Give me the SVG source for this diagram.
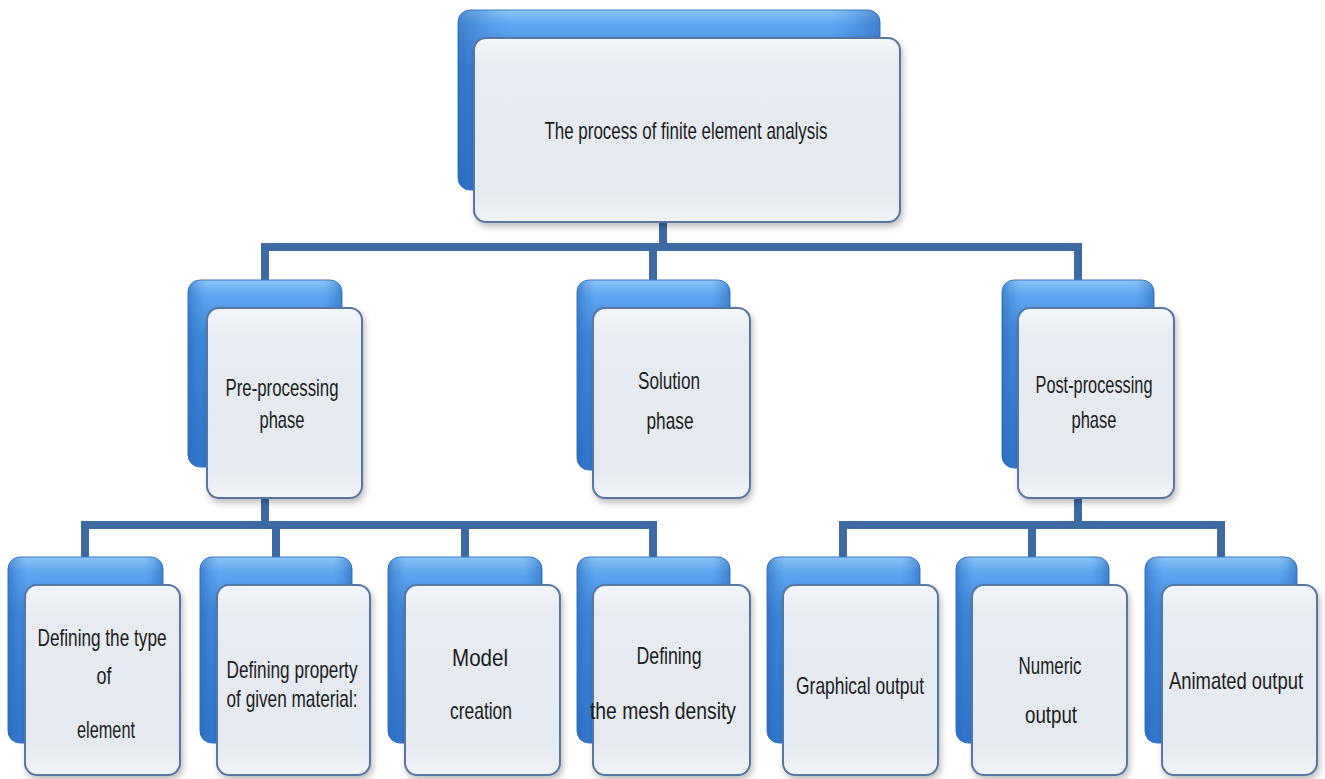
<svg xmlns="http://www.w3.org/2000/svg" width="1325" height="779" viewBox="0 0 1325 779">
  <defs>
    <linearGradient id="backGrad" x1="0" y1="0" x2="0" y2="1">
      <stop offset="0" stop-color="#8cc6f7"/>
      <stop offset="0.08" stop-color="#5ea6ee"/>
      <stop offset="0.3" stop-color="#3f88dc"/>
      <stop offset="1" stop-color="#2f74cc"/>
    </linearGradient>
    <linearGradient id="backSide" x1="0" y1="0" x2="1" y2="0">
      <stop offset="0" stop-color="#2a66b8" stop-opacity="0.6"/>
      <stop offset="0.12" stop-color="#3f88dc" stop-opacity="0"/>
      <stop offset="0.88" stop-color="#3f88dc" stop-opacity="0"/>
      <stop offset="1" stop-color="#2a66b8" stop-opacity="0.6"/>
    </linearGradient>
    <linearGradient id="frontGrad" x1="0" y1="0" x2="0" y2="1">
      <stop offset="0" stop-color="#f3f6f9"/>
      <stop offset="0.15" stop-color="#e7ecf2"/>
      <stop offset="0.85" stop-color="#e5eaf0"/>
      <stop offset="1" stop-color="#f1f4f7"/>
    </linearGradient>
    <filter id="shadow" x="-10%" y="-10%" width="125%" height="125%">
      <feDropShadow dx="2" dy="4" stdDeviation="3" flood-color="#000" flood-opacity="0.25"/>
    </filter>
  </defs>
  <style>
    .back { fill: url(#backGrad); stroke: #3a78c8; stroke-width: 1; }
    .side { fill: url(#backSide); }
    .front { fill: url(#frontGrad); stroke: #5876a2; stroke-width: 2; filter: url(#shadow); }
    .conn { fill: none; stroke: #3d6aa3; stroke-width: 8; stroke-linejoin: miter; stroke-linecap: butt; }
    .t { font-family: "Liberation Sans Narrow", "Liberation Sans", Arial, sans-serif; font-size: 24px; fill: #1c1c1c; text-anchor: middle; }
  </style>

  <g id="connectors">
    <path class="conn" d="M663,222 V247"/>
    <path class="conn" d="M265,284 V247 H1078 V284"/>
    <path class="conn" d="M653,247 V284"/>
    <path class="conn" d="M265,498 V525"/>
    <path class="conn" d="M85,560 V525 H653 V560"/>
    <path class="conn" d="M276,525 V560"/>
    <path class="conn" d="M465,525 V560"/>
    <path class="conn" d="M1078,498 V525"/>
    <path class="conn" d="M843,560 V525 H1221 V560"/>
    <path class="conn" d="M1032,525 V560"/>
  </g>

  <g id="node-root">
    <rect class="back" x="458" y="10" width="422" height="180" rx="12"/>
    <rect class="side" x="458" y="10" width="422" height="180" rx="12"/>
    <rect class="front" x="474" y="38" width="426" height="184" rx="12"/>
    <text class="t" x="686" y="139" textLength="283" lengthAdjust="spacingAndGlyphs">The process of finite element analysis</text>
  </g>

  <g id="node-pre">
    <rect class="back" x="188" y="280" width="154" height="187" rx="12"/>
    <rect class="side" x="188" y="280" width="154" height="187" rx="12"/>
    <rect class="front" x="207" y="308" width="155" height="190" rx="12"/>
    <text class="t" x="282" y="396" textLength="113" lengthAdjust="spacingAndGlyphs">Pre-processing</text>
    <text class="t" x="282" y="428" textLength="45" lengthAdjust="spacingAndGlyphs">phase</text>
  </g>

  <g id="node-solution">
    <rect class="back" x="577" y="280" width="153" height="190" rx="12"/>
    <rect class="side" x="577" y="280" width="153" height="190" rx="12"/>
    <rect class="front" x="593" y="308" width="157" height="190" rx="12"/>
    <text class="t" x="669" y="389" textLength="62" lengthAdjust="spacingAndGlyphs">Solution</text>
    <text class="t" x="670" y="429" textLength="47" lengthAdjust="spacingAndGlyphs">phase</text>
  </g>

  <g id="node-post">
    <rect class="back" x="1002" y="280" width="152" height="188" rx="12"/>
    <rect class="side" x="1002" y="280" width="152" height="188" rx="12"/>
    <rect class="front" x="1018" y="308" width="156" height="190" rx="12"/>
    <text class="t" x="1094" y="393" textLength="117" lengthAdjust="spacingAndGlyphs">Post-processing</text>
    <text class="t" x="1094" y="428" textLength="45" lengthAdjust="spacingAndGlyphs">phase</text>
  </g>

  <g id="node-type">
    <rect class="back" x="8" y="557" width="155" height="186" rx="12"/>
    <rect class="side" x="8" y="557" width="155" height="186" rx="12"/>
    <rect class="front" x="25" y="585" width="155" height="190" rx="12"/>
    <text class="t" x="102" y="646" textLength="129" lengthAdjust="spacingAndGlyphs">Defining the type</text>
    <text class="t" x="104" y="684" textLength="15" lengthAdjust="spacingAndGlyphs">of</text>
    <text class="t" x="106" y="738" textLength="58" lengthAdjust="spacingAndGlyphs">element</text>
  </g>

  <g id="node-material">
    <rect class="back" x="200" y="557" width="152" height="186" rx="12"/>
    <rect class="side" x="200" y="557" width="152" height="186" rx="12"/>
    <rect class="front" x="217" y="585" width="153" height="190" rx="12"/>
    <text class="t" x="292" y="678" textLength="131" lengthAdjust="spacingAndGlyphs">Defining property</text>
    <text class="t" x="292" y="707" textLength="131" lengthAdjust="spacingAndGlyphs">of given material:</text>
  </g>

  <g id="node-model">
    <rect class="back" x="388" y="557" width="154" height="186" rx="12"/>
    <rect class="side" x="388" y="557" width="154" height="186" rx="12"/>
    <rect class="front" x="405" y="585" width="155" height="190" rx="12"/>
    <text class="t" x="480" y="666" textLength="56" lengthAdjust="spacingAndGlyphs">Model</text>
    <text class="t" x="481" y="719" textLength="62" lengthAdjust="spacingAndGlyphs">creation</text>
  </g>

  <g id="node-mesh">
    <rect class="back" x="577" y="557" width="153" height="186" rx="12"/>
    <rect class="side" x="577" y="557" width="153" height="186" rx="12"/>
    <rect class="front" x="593" y="585" width="157" height="190" rx="12"/>
    <text class="t" x="669" y="664" textLength="65" lengthAdjust="spacingAndGlyphs">Defining</text>
    <text class="t" x="663" y="719" textLength="146" lengthAdjust="spacingAndGlyphs">the mesh density</text>
  </g>

  <g id="node-graphical">
    <rect class="back" x="767" y="557" width="153" height="186" rx="12"/>
    <rect class="side" x="767" y="557" width="153" height="186" rx="12"/>
    <rect class="front" x="783" y="585" width="155" height="190" rx="12"/>
    <text class="t" x="860" y="694" textLength="128" lengthAdjust="spacingAndGlyphs">Graphical output</text>
  </g>

  <g id="node-numeric">
    <rect class="back" x="956" y="557" width="153" height="186" rx="12"/>
    <rect class="side" x="956" y="557" width="153" height="186" rx="12"/>
    <rect class="front" x="972" y="585" width="155" height="190" rx="12"/>
    <text class="t" x="1050" y="674" textLength="63" lengthAdjust="spacingAndGlyphs">Numeric</text>
    <text class="t" x="1051" y="723" textLength="52" lengthAdjust="spacingAndGlyphs">output</text>
  </g>

  <g id="node-animated">
    <rect class="back" x="1145" y="557" width="152" height="186" rx="12"/>
    <rect class="side" x="1145" y="557" width="152" height="186" rx="12"/>
    <rect class="front" x="1162" y="585" width="155" height="190" rx="12"/>
    <text class="t" x="1236" y="689" textLength="134" lengthAdjust="spacingAndGlyphs">Animated output</text>
  </g>
</svg>
